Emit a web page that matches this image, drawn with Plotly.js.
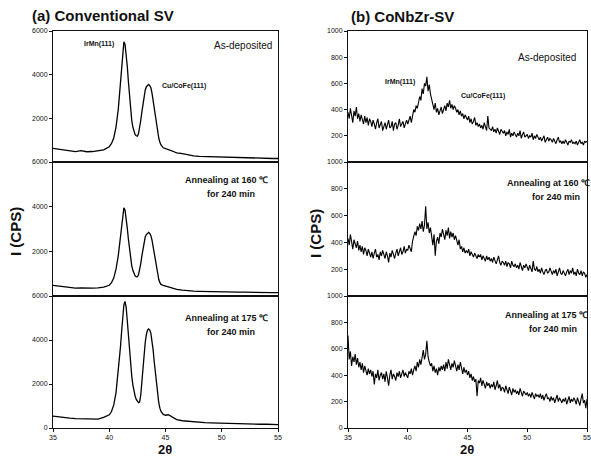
<!DOCTYPE html>
<html>
<head>
<meta charset="utf-8">
<script src="https://cdn.plot.ly/plotly-3.0.1.min.js"></script>
<style>html,body{margin:0;padding:0;background:#fff;}#chart{width:591px;height:456px;}</style>
</head>
<body>
<div id="chart"></div>
<script>
// ---- Data ----
// (a) Conventional SV : shared 2θ grid
const twoThetaA = [35,35.5,36,36.5,37,37.5,38,38.5,39,39.5,40,40.2,40.4,40.6,40.8,
  41,41.1,41.2,41.3,41.4,41.5,41.6,41.7,41.8,41.9,42,42.1,42.2,42.3,42.4,42.5,42.6,42.7,42.8,42.9,
  43,43.1,43.2,43.3,43.4,43.5,43.6,43.7,43.8,43.9,44,44.1,44.2,44.3,44.4,44.5,44.6,44.8,45,45.25,45.5,45.75,46,
  46.5,47,47.5,48,48.5,49,49.5,50,50.5,51,51.5,52,52.5,53,53.5,54,54.5,55];

const convAsDep = [620,580,540,500,480,520,470,480,520,560,700,850,1100,1600,2400,
  3500,4200,4900,5500,5400,5000,4400,3700,3000,2400,1900,1600,1400,1250,1200,1180,1300,1550,1900,2300,
  2700,3050,3300,3450,3500,3550,3500,3400,3150,2800,2400,2000,1650,1350,1100,900,780,650,620,580,520,470,420,
  380,320,280,260,250,240,230,220,220,200,200,190,180,180,170,170,160,160];

const conv160 = [480,450,420,380,350,360,340,350,360,400,480,600,800,1200,1800,
  2600,3100,3600,3950,3850,3500,3050,2550,2050,1650,1350,1150,1000,900,860,870,950,1150,1450,1800,
  2150,2450,2650,2750,2800,2850,2800,2700,2500,2200,1850,1500,1200,950,750,600,520,470,440,420,380,340,300,
  260,230,220,210,200,200,190,190,180,180,170,170,160,160,160,150,150,150];

const conv175 = [540,500,470,450,430,420,400,380,400,480,600,750,1050,1600,2500,
  3700,4400,5100,5600,5750,5500,4900,4200,3500,2900,2350,1950,1650,1450,1300,1200,1150,1180,1500,2100,
  2800,3400,3900,4250,4450,4500,4450,4300,4000,3550,3000,2450,1950,1500,1150,900,750,620,580,600,520,430,380,
  330,300,270,250,240,230,220,210,200,200,190,190,180,180,170,170,160,150];

// (b) CoNbZr-SV : 2θ from 35 to 55 in steps of 0.1
const twoThetaStartB = 35, twoThetaStepB = 0.1;
const cnzAsDep = [
 380,330,410,360,300,390,350,420,330,370,
 310,360,320,290,350,300,340,280,330,310,
 270,320,290,250,300,330,260,290,310,240,
 280,300,250,290,320,260,270,310,240,290,
 300,250,280,330,270,290,310,260,300,320,
 290,330,350,300,370,400,380,430,410,460,
 500,470,560,520,600,580,650,540,590,520,
 470,430,400,450,380,410,360,390,420,370,
 400,430,390,450,420,470,410,440,400,430,
 410,380,400,360,390,350,370,330,360,340,
 320,350,300,330,290,310,340,280,300,270,
 290,260,280,250,300,270,240,350,260,250,
 240,270,230,250,220,260,240,210,250,230,
 220,240,200,230,210,250,190,220,200,230,
 210,190,220,200,240,180,210,230,190,200,
 210,180,200,190,220,170,200,180,210,190,
 170,190,160,180,200,150,170,190,160,180,
 170,150,180,160,140,170,190,150,160,140,
 160,140,170,150,130,160,150,170,140,150,
 140,160,130,150,170,140,150,130,160,150,
 160];

const cnz160 = [
 430,380,460,400,350,420,390,360,410,340,
 380,330,370,310,360,340,300,350,320,290,
 330,280,320,350,290,310,270,330,300,340,
 310,280,330,300,250,320,290,340,310,280,
 320,350,300,340,360,310,330,370,320,350,
 340,380,350,330,410,440,480,450,520,490,
 540,500,560,480,530,670,500,550,470,510,
 430,380,460,300,410,440,390,470,440,500,
 460,420,490,450,510,430,480,440,470,420,
 450,410,380,420,350,370,330,360,320,340,
 320,350,300,330,310,290,320,300,280,310,
 290,310,270,300,280,260,300,270,290,260,
 280,250,290,260,240,270,300,250,230,260,
 250,230,260,220,250,240,210,260,230,220,
 240,210,230,200,250,220,190,230,210,240,
 210,190,230,200,180,260,200,190,220,180,
 200,170,210,180,160,190,200,170,180,210,
 180,160,190,170,200,150,180,210,170,160,
 190,170,150,180,200,160,190,170,210,160,
 180,150,200,170,160,190,150,180,170,140,
 160];

const cnz175 = [
 700,520,580,470,540,500,560,480,530,460,
 500,440,490,420,470,430,400,450,410,440,
 390,430,330,410,380,440,360,400,420,370,
 410,350,430,380,320,400,440,370,410,390,
 360,420,390,430,380,410,440,390,420,400,
 380,430,410,450,400,440,470,430,500,460,
 520,480,550,590,520,560,660,540,500,470,
 490,430,470,420,450,400,460,430,470,440,
 480,430,500,450,520,470,440,490,460,510,
 470,430,480,440,500,450,410,460,420,440,
 400,430,380,410,360,390,350,370,240,360,
 340,380,320,360,330,300,350,320,340,300,
 330,310,350,290,320,360,300,330,280,310,
 300,270,320,290,260,310,280,250,300,270,
 290,260,280,250,300,270,240,280,260,250,
 270,240,260,230,270,250,220,260,240,250,
 230,260,220,250,210,240,260,220,230,200,
 240,210,230,190,220,250,200,230,210,190,
 220,200,230,180,210,240,190,220,200,230,
 210,180,230,200,170,220,260,190,210,150,
 220];

const xTicks = [35,40,45,50,55];
const yTicksA = [2000,4000,6000];
const yTicksA0 = [0,2000,4000,6000];
const yTicksB = [200,400,600,800,1000];
const yTicksB0 = [0,200,400,600,800,1000];

// ---- Layout helpers (pixel -> paper) ----
const W = 591, H = 456;
const px = v => v / W;
const py = v => 1 - v / H;
const FONT = 'Liberation Sans, Arial, sans-serif';

const xDomA = [px(53), px(278)];
const xDomB = [px(348), px(587)];
const yDoms = [[py(162), py(31)], [py(296), py(162)], [py(428), py(296)]];

const lineA = {color: '#000', width: 1.3};
const lineB = {color: '#000', width: 1.1};

const traces = [
  {x: twoThetaA, y: convAsDep, xaxis: 'x', yaxis: 'y', mode: 'lines', line: lineA},
  {x: twoThetaA, y: conv160, xaxis: 'x2', yaxis: 'y2', mode: 'lines', line: lineA},
  {x: twoThetaA, y: conv175, xaxis: 'x3', yaxis: 'y3', mode: 'lines', line: lineA},
  {x0: twoThetaStartB, dx: twoThetaStepB, y: cnzAsDep, xaxis: 'x4', yaxis: 'y4', mode: 'lines', line: lineB},
  {x0: twoThetaStartB, dx: twoThetaStepB, y: cnz160, xaxis: 'x5', yaxis: 'y5', mode: 'lines', line: lineB},
  {x0: twoThetaStartB, dx: twoThetaStepB, y: cnz175, xaxis: 'x6', yaxis: 'y6', mode: 'lines', line: lineB}
];

function xAx(dom, anchor, bottom) {
  return {
    domain: dom, anchor: anchor, range: [35, 55], showgrid: false, zeroline: false,
    showline: true, mirror: true, linecolor: '#111', linewidth: 1,
    tickvals: xTicks, ticks: bottom ? 'outside' : '', ticklen: 3, tickcolor: '#111',
    showticklabels: bottom, tickfont: {family: FONT, size: 7, color: '#111'}
  };
}
function yAx(dom, anchor, range, vals) {
  return {
    domain: dom, anchor: anchor, range: range, showgrid: false, zeroline: false,
    showline: true, mirror: true, linecolor: '#111', linewidth: 1,
    tickvals: vals, ticktext: vals.map(String), ticks: 'outside', ticklen: 3, tickcolor: '#111',
    tickfont: {family: FONT, size: 7, color: '#111'}
  };
}

const layout = {
  width: W, height: H, margin: {l: 0, r: 0, t: 0, b: 0},
  paper_bgcolor: '#fff', plot_bgcolor: '#fff', showlegend: false,
  xaxis: xAx(xDomA, 'y', false), yaxis: yAx(yDoms[0], 'x', [0, 6000], yTicksA),
  xaxis2: xAx(xDomA, 'y2', false), yaxis2: yAx(yDoms[1], 'x2', [0, 6000], yTicksA),
  xaxis3: xAx(xDomA, 'y3', true), yaxis3: yAx(yDoms[2], 'x3', [0, 6000], yTicksA0),
  xaxis4: xAx(xDomB, 'y4', false), yaxis4: yAx(yDoms[0], 'x4', [0, 1000], yTicksB),
  xaxis5: xAx(xDomB, 'y5', false), yaxis5: yAx(yDoms[1], 'x5', [0, 1000], yTicksB),
  xaxis6: xAx(xDomB, 'y6', true), yaxis6: yAx(yDoms[2], 'x6', [0, 1000], yTicksB0),
  annotations: []
};

function ann(text, x, y, size, bold, extra) {
  layout.annotations.push(Object.assign({
    text: bold ? '<b>' + text + '</b>' : text, xref: 'paper', yref: 'paper',
    x: px(x), y: py(y), xanchor: 'center', yanchor: 'middle', showarrow: false,
    font: {family: FONT, size: size, color: '#111'}
  }, extra || {}));
}

// panel titles and axis titles
ann('(a) Conventional SV', 30, 15, 15, true, {xanchor: 'left'});
ann('(b) CoNbZr-SV', 349, 16, 15, true, {xanchor: 'left'});
ann('I (CPS)', 15, 232, 15, true, {textangle: -90});
ann('I (CPS)', 315, 234, 15, true, {textangle: -90});
ann('2θ', 165, 449, 13, true);
ann('2θ', 467, 449, 13, true);

// (a) labels
ann('IrMn(111)', 99, 44, 7, true);
ann('Cu/CoFe(111)', 184, 86, 7, true);
ann('As-deposited', 243, 45, 10, false);
ann('Annealing at 160 ℃', 226, 180, 9, true);
ann('for 240 min', 231, 194, 9, true);
ann('Annealing at 175 ℃', 226, 318, 9, true);
ann('for 240 min', 231, 332, 9, true);

// (b) labels
ann('IrMn(111)', 400, 82, 7, true);
ann('Cu/CoFe(111)', 483, 96, 7, true);
ann('As-deposited', 547, 57, 10, false);
ann('Annealing at 160 ℃', 548, 183, 9, true);
ann('for 240 min', 556, 197, 9, true);
ann('Annealing at 175 ℃', 546, 315, 9, true);
ann('for 240 min', 553, 329, 9, true);

Plotly.newPlot('chart', traces, layout, {staticPlot: true, displayModeBar: false});
</script>
</body>
</html>
